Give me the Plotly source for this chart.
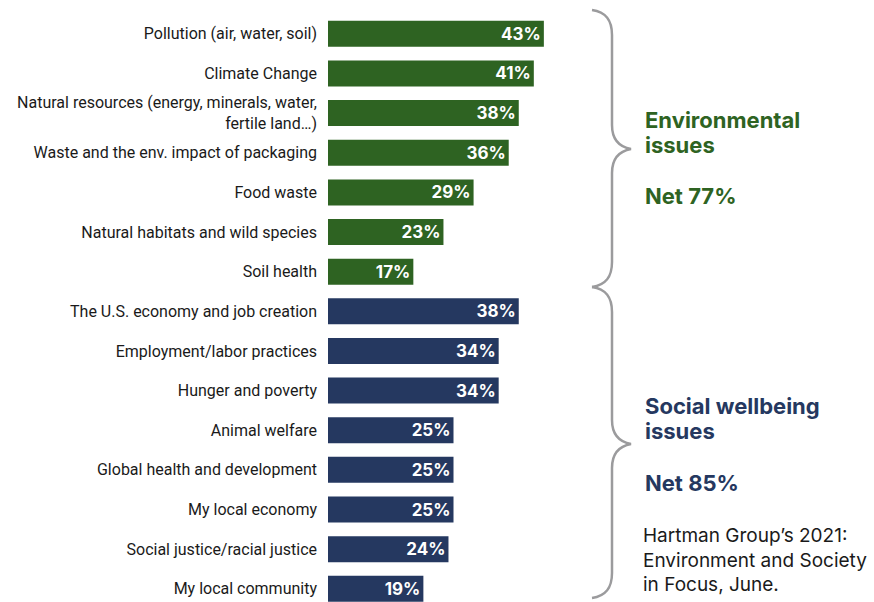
import plotly.graph_objects as go

env_categories = [
    "Pollution (air, water, soil)",
    "Climate Change",
    "Natural resources (energy, minerals, water,<br>fertile land…)",
    "Waste and the env. impact of packaging",
    "Food waste",
    "Natural habitats and wild species",
    "Soil health",
]
env_values = [43, 41, 38, 36, 29, 23, 17]

soc_categories = [
    "The U.S. economy and job creation",
    "Employment/labor practices",
    "Hunger and poverty",
    "Animal welfare",
    "Global health and development",
    "My local economy",
    "Social justice/racial justice",
    "My local community",
]
soc_values = [38, 34, 34, 25, 25, 25, 24, 19]

GREEN = "#2e6322"
NAVY = "#253860"
GRAY = "#9b9b9d"

W, H = 874, 602
ML, MR, MT, MB = 328, 0, 14, 0
PW, PH = W - ML - MR, H - MT - MB


def px(x):
    return (x - ML) / PW


def py(y):
    return (H - MB - y) / PH


label_font = dict(family="Roboto, sans-serif", size=16, color="#1a1a1a")
bar_text_font = dict(family="Inter, Roboto, sans-serif", size=17, color="white", weight="bold")

fig = go.Figure()
for cats, vals, col in [(env_categories, env_values, GREEN), (soc_categories, soc_values, NAVY)]:
    fig.add_trace(go.Bar(
        y=cats, x=vals, orientation="h", marker=dict(color=col, line=dict(width=0)),
        text=[f"{v}%" for v in vals], textposition="inside", insidetextanchor="end",
        textfont=bar_text_font, cliponaxis=False, showlegend=False, hoverinfo="skip",
    ))

all_cats = env_categories + soc_categories
pitch = 39.64
n_units = PH / pitch

fig.update_layout(
    width=W, height=H, margin=dict(l=ML, r=MR, t=MT, b=MB, autoexpand=False),
    paper_bgcolor="white", plot_bgcolor="white",
    bargap=0.344,
    uniformtext=dict(mode=False),
    xaxis=dict(range=[0, PW / 5.02], visible=False, showgrid=False, zeroline=False,
               automargin=False),
    yaxis=dict(categoryorder="array", categoryarray=all_cats, automargin=False,
               range=[-0.5 + n_units, -0.5], showgrid=False, zeroline=False,
               showline=False, ticks="", tickfont=label_font, ticklabelstandoff=10),
)


def brace(top, mid, bottom):
    xs, xl, xp = 592, 612, 631
    pts = [
        (xs, top), (xs + 14, top + 2), (xl, top + 10), (xl, top + 25),
        (xl, mid - 24), (xl, mid - 9), (xl + 8, mid - 2), (xp, mid),
        (xl + 8, mid + 2), (xl, mid + 9), (xl, mid + 24),
        (xl, bottom - 25), (xl, bottom - 10), (xs + 14, bottom - 2), (xs, bottom),
    ]
    p = [f"{px(a):.5f},{py(b):.5f}" for a, b in pts]
    return (f"M {p[0]} C {p[1]} {p[2]} {p[3]} L {p[4]} C {p[5]} {p[6]} {p[7]} "
            f"C {p[8]} {p[9]} {p[10]} L {p[11]} C {p[12]} {p[13]} {p[14]}")


for top, mid, bot in [(10, 149, 287), (287, 444, 598)]:
    fig.add_shape(type="path", path=brace(top, mid, bot), xref="paper", yref="paper",
                  line=dict(color=GRAY, width=2.5))

head_font = dict(family="Inter, Roboto, sans-serif", size=22, weight="bold")
annos = [
    ("Environmental", 120, GREEN),
    ("issues", 145, GREEN),
    ("Net 77%", 196, GREEN),
    ("Social wellbeing", 406, NAVY),
    ("issues", 431, NAVY),
    ("Net 85%", 483, NAVY),
]
for txt, y, col in annos:
    fig.add_annotation(text=txt, x=px(643), y=py(y), xref="paper", yref="paper",
                       xanchor="left", yanchor="middle", align="left", showarrow=False,
                       font=dict(head_font, color=col))

fig.add_annotation(text="Hartman Group’s 2021:<br>Environment and Society<br>in Focus, June.",
                   x=px(641), y=py(560), xref="paper", yref="paper",
                   xanchor="left", yanchor="middle", align="left", showarrow=False,
                   font=dict(family="Inter, Roboto, sans-serif", size=19, color="#1a1a1a"))

fig.write_html("out.html", config={"displayModeBar": False},
               post_script="document.body.style.margin='0';")
